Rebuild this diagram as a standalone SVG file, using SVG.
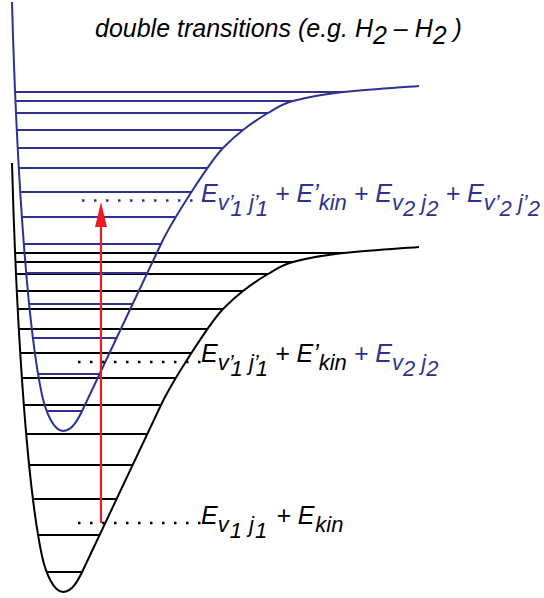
<svg xmlns="http://www.w3.org/2000/svg" width="544" height="598" viewBox="0 0 544 598">
<style>
.t{font-family:"Liberation Sans",Arial,sans-serif;font-style:italic;font-size:25px}
.s{font-size:22px}
.bl{fill:#2e3192}
.k{fill:#000}
.curve{fill:none;stroke-width:2}
.lev{stroke-width:2}
.dots{stroke-width:2.5;stroke-dasharray:2.5 9.5;fill:none}
</style>
<defs>
<path id="pot" d="M12,2 C16,150 26,320 42,395 C46,413 54,431 63,431 C72,431 78,420 84,407 L161,244 C172.8,219 211,160.3 223,148 C229.2,141.7 235.5,135.8 243,130 C250.5,124.2 259.7,117.8 268,113 C276.3,108.2 280.5,104.5 293,101 C305.5,97.5 322,94.5 343,92 C364,89.5 394,88 419,86"/>
<g id="levels">
<line x1="15.1" y1="92" x2="343" y2="92"/>
<line x1="15.5" y1="101" x2="293" y2="101"/>
<line x1="16" y1="113" x2="268" y2="113"/>
<line x1="16.9" y1="130" x2="243" y2="130"/>
<line x1="17.7" y1="148" x2="223" y2="148"/>
<line x1="18.9" y1="168" x2="207" y2="168"/>
<line x1="20.2" y1="192" x2="191" y2="192"/>
<line x1="21.9" y1="217" x2="175" y2="217"/>
<line x1="23.9" y1="244" x2="161" y2="244"/>
<line x1="26.2" y1="273" x2="147" y2="273"/>
<line x1="29.1" y1="304" x2="132.5" y2="304"/>
<line x1="33" y1="338" x2="116.5" y2="338"/>
<line x1="38" y1="374" x2="99.5" y2="374"/>
<line x1="46.6" y1="411" x2="82" y2="411"/>
</g>
</defs>

<g id="lower-state" transform="translate(0,161)" stroke="#000">
<use href="#pot" class="curve"/>
<use href="#levels" class="lev"/>
</g>

<g id="upper-state" stroke="#2e3192">
<use href="#pot" class="curve"/>
<use href="#levels" class="lev"/>
</g>

<g id="connectors">
<line class="dots" x1="82" y1="200.5" x2="205" y2="200.5" stroke="#2e3192"/>
<line class="dots" x1="78" y1="362" x2="205" y2="362" stroke="#000"/>
<line class="dots" x1="78" y1="523" x2="205" y2="523" stroke="#000"/>
<g id="transition">
<line x1="101" y1="523" x2="101" y2="224" stroke="#ed1c24" stroke-width="2.2"/>
<polygon points="101,202 95,227 107,227" fill="#ed1c24"/>
</g>
</g>

<g id="title">
<text class="t k" x="95" y="37">double transitions (e.g. H<tspan dy="7">2</tspan><tspan dy="-7"> – H</tspan><tspan dy="7">2</tspan><tspan dy="-7"> )</tspan></text>
</g>

<g id="label-upper">
<text class="t bl" x="201" y="202">E<tspan class="s" dy="8">v’</tspan><tspan class="s" dx="-3" dy="6">1</tspan><tspan class="s" dy="-6"> j’</tspan><tspan class="s" dx="-3" dy="6">1</tspan><tspan dy="-14"> + E’</tspan><tspan class="s" dy="8">kin</tspan><tspan dy="-8"> + E</tspan><tspan class="s" dy="8">v</tspan><tspan class="s" dy="6">2</tspan><tspan class="s" dy="-6"> j</tspan><tspan class="s" dy="6">2</tspan><tspan dy="-14"> + E</tspan><tspan class="s" dy="8">v’</tspan><tspan class="s" dy="6">2</tspan><tspan class="s" dy="-6"> j’</tspan><tspan class="s" dy="6">2</tspan></text>
</g>

<g id="label-middle">
<text class="t k" x="201" y="362">E<tspan class="s" dy="8">v’</tspan><tspan class="s" dx="-3" dy="6">1</tspan><tspan class="s" dy="-6"> j’</tspan><tspan class="s" dx="-3" dy="6">1</tspan><tspan dy="-14"> + E’</tspan><tspan class="s" dy="8">kin</tspan><tspan class="bl" dy="-8"> + E</tspan><tspan class="s bl" dy="8">v</tspan><tspan class="s bl" dy="6">2</tspan><tspan class="s bl" dy="-6"> j</tspan><tspan class="s bl" dy="6">2</tspan></text>
</g>

<g id="label-lower">
<text class="t k" x="201" y="524">E<tspan class="s" dy="8">v</tspan><tspan class="s" dx="1" dy="6">1</tspan><tspan class="s" dx="1" dy="-6"> j</tspan><tspan class="s" dx="1" dy="6">1</tspan><tspan dx="2" dy="-14"> + E</tspan><tspan class="s" dx="1" dy="8">kin</tspan></text>
</g>
</svg>
